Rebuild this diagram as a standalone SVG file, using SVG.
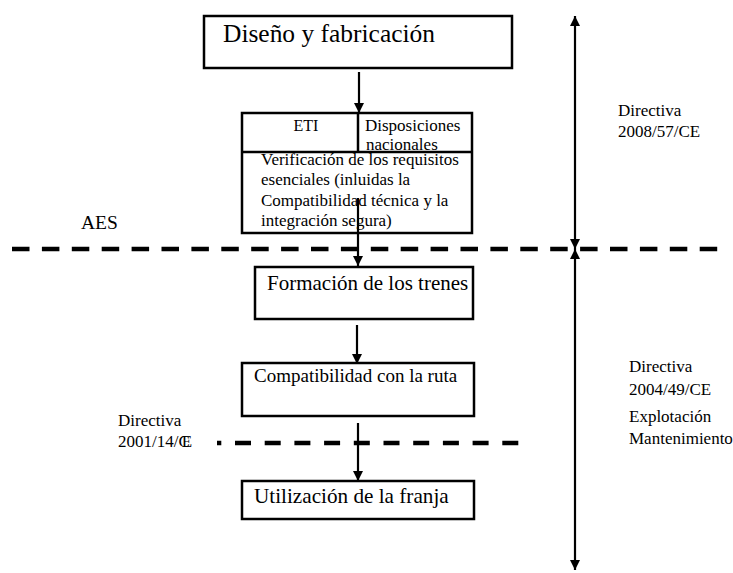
<svg xmlns="http://www.w3.org/2000/svg" width="733" height="573" viewBox="0 0 733 573" font-family="'Liberation Serif', 'DejaVu Serif', serif">
<style>
  text { font-family: "Liberation Serif", "Times New Roman", "DejaVu Serif", serif; fill: #000; }
  .box { fill: #fff; stroke: #000; stroke-width: 2.5; }
  .ln { stroke: #000; stroke-width: 2.5; fill: none; }
  .conn { stroke: #000; stroke-width: 2.2; fill: none; }
  .dash { stroke: #000; stroke-width: 4.5; fill: none; }
</style>
<defs>
  <marker id="ah" viewBox="0 0 10 10" refX="10" refY="5" markerWidth="10" markerHeight="10" markerUnits="userSpaceOnUse" orient="auto">
    <path d="M0,0 L10,5 L0,10 Z" fill="#000"/>
  </marker>
</defs>
<rect width="733" height="573" fill="#fff"/>

<g id="separators">
  <line class="dash" x1="12" y1="249" x2="718" y2="249" stroke-dasharray="17.5 12.4"/>
  <line class="dash" x1="217" y1="443" x2="521" y2="443" stroke-dasharray="16 13.7" stroke-dashoffset="11.7"/>
</g>

<g id="node-diseno">
  <rect class="box" x="204" y="16" width="308" height="52"/>
  <text x="223" y="42" font-size="24.5" textLength="212" lengthAdjust="spacingAndGlyphs">Diseño y fabricación</text>
</g>

<g id="node-eti">
  <rect class="box" x="242" y="113" width="230" height="120"/>
  <text x="306" y="131" font-size="16" text-anchor="middle">ETI</text>
  <text x="365" y="131" font-size="17">Disposiciones</text>
  <text x="366" y="150" font-size="17">nacionales</text>
  <line class="ln" x1="358" y1="113" x2="358" y2="152"/>
  <line class="ln" x1="242" y1="152" x2="472" y2="152"/>
  <text x="261" y="165" font-size="17">Verificación de los requisitos</text>
  <text x="261" y="185" font-size="17">esenciales (inluidas la</text>
  <text x="261" y="206" font-size="17">Compatibilidad técnica y la</text>
  <text x="261" y="226" font-size="17">integración segura)</text>
</g>

<g id="node-formacion">
  <rect class="box" x="255" y="267" width="218" height="52"/>
  <text x="267" y="290" font-size="21">Formación de los trenes</text>
</g>

<g id="node-compatibilidad">
  <rect class="box" x="242" y="363" width="232" height="53"/>
  <text x="254" y="382" font-size="19">Compatibilidad con la ruta</text>
</g>

<g id="node-utilizacion">
  <rect class="box" x="242" y="481" width="232" height="38"/>
  <text x="254" y="503" font-size="21.2">Utilización de la franja</text>
</g>

<g id="labels">
  <text x="81" y="229" font-size="19.5">AES</text>
  <text x="618" y="116" font-size="17">Directiva</text>
  <text x="618" y="137" font-size="17">2008/57/CE</text>
  <text x="629" y="372" font-size="17">Directiva</text>
  <text x="629" y="395" font-size="17">2004/49/CE</text>
  <text x="629" y="422" font-size="17">Explotación</text>
  <text x="629" y="444" font-size="17">Mantenimiento</text>
  <text x="118" y="426" font-size="17">Directiva</text>
  <text x="118" y="447" font-size="17">2001/14/C<tspan dx="-8">E</tspan></text>
</g>

<g id="connectors">
  <line class="conn" x1="359" y1="72" x2="359" y2="113" marker-end="url(#ah)"/>
  <line class="conn" x1="358" y1="198" x2="358" y2="266" marker-end="url(#ah)"/>
  <line class="conn" x1="357" y1="325" x2="357" y2="364" marker-end="url(#ah)"/>
  <line class="conn" x1="358" y1="423" x2="358" y2="481" marker-end="url(#ah)"/>
  <line class="conn" x1="575" y1="132" x2="575" y2="16" marker-end="url(#ah)"/>
  <line class="conn" x1="575" y1="132" x2="575" y2="249" marker-end="url(#ah)"/>
  <line class="conn" x1="575" y1="410" x2="575" y2="249" marker-end="url(#ah)"/>
  <line class="conn" x1="575" y1="410" x2="575" y2="570" marker-end="url(#ah)"/>
</g>
</svg>
